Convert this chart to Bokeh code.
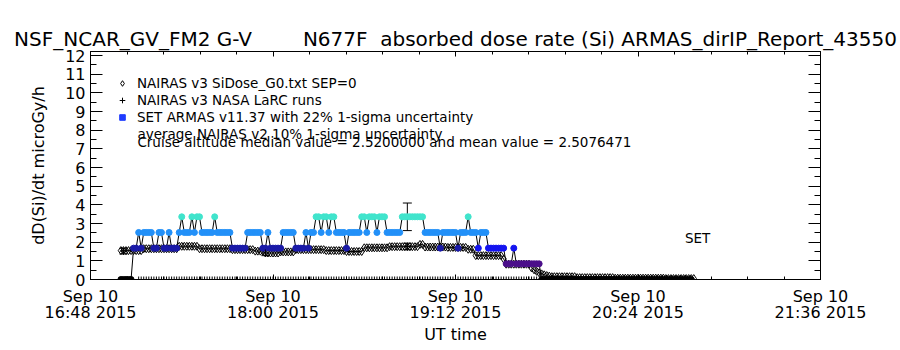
import pandas as pd
from bokeh.plotting import figure
from bokeh.models import (Range1d, FixedTicker, DatetimeAxis, LinearAxis,
                          Legend, LegendItem, Label, Whisker, TeeHead, ColumnDataSource)
from bokeh.embed import file_html
from bokeh.resources import INLINE

DAY = "2015-09-10 "
FONT = "DejaVu Sans"

# ---------------- data ----------------
x_tick_times = ["16:48", "18:00", "19:12", "20:24", "21:36"]
x_tick_labels = ["Sep 10\n16:48 2015", "Sep 10\n18:00 2015", "Sep 10\n19:12 2015",
                 "Sep 10\n20:24 2015", "Sep 10\n21:36 2015"]
y_ticks = list(range(0, 13))

# NAIRAS v3 SiDose_G0 (1-min cadence from 17:00), runs of (dose rate, minutes)
nairas_start = "17:00"
nairas_runs = [(1.55, 9), (1.65, 14), (1.78, 8), (1.65, 13), (1.60, 9), (1.52, 4),
               (1.42, 6), (1.48, 6), (1.60, 12), (1.55, 8), (1.50, 7), (1.70, 10),
               (1.76, 12), (1.88, 2), (1.74, 9), (1.72, 8), (1.62, 3), (1.28, 11),
               (1.10, 1), (0.82, 10), (0.62, 1), (0.52, 1), (0.44, 1), (0.36, 1),
               (0.30, 1), (0.25, 1), (0.21, 1), (0.18, 1), (0.15, 10), (0.10, 15),
               (0.07, 20), (0.05, 12)]

# SET ARMAS v11.37 (1-min cadence from 17:00), runs of (dose rate, minutes, tone)
armas_start = "17:00"
armas_runs = [(0.0, 5, "a"), (1.68, 2, "a"), (2.52, 1, "a"), (1.68, 1, "a"), (2.52, 4, "a"),
              (1.68, 2, "a"), (2.52, 2, "a"), (1.68, 2, "a"), (2.52, 1, "a"), (1.68, 3, "a"),
              (2.52, 1, "a"), (3.36, 1, "a"), (2.52, 3, "a"), (3.36, 1, "a"), (2.52, 1, "a"),
              (3.36, 2, "a"), (2.52, 5, "a"), (3.36, 1, "a"), (2.52, 6, "a"), (1.68, 6, "a"),
              (2.52, 6, "a"), (1.68, 2, "a"), (2.52, 1, "a"), (1.68, 5, "a"), (2.52, 5, "a"),
              (1.68, 4, "a"), (2.52, 1, "a"), (1.68, 1, "a"), (2.52, 2, "a"), (3.36, 2, "a"),
              (2.52, 1, "a"), (3.36, 2, "a"), (2.52, 1, "a"), (3.36, 2, "a"), (2.52, 4, "a"),
              (1.68, 1, "a"), (2.52, 5, "a"), (3.36, 2, "a"), (2.52, 1, "a"), (3.36, 3, "a"),
              (2.52, 1, "a"), (3.36, 3, "a"), (2.52, 6, "a"), (3.36, 9, "a"), (2.52, 6, "a"),
              (1.68, 1, "a"), (2.52, 6, "a"), (1.68, 1, "a"), (2.52, 3, "a"), (3.36, 1, "a"),
              (2.52, 3, "a"), (1.68, 1, "b"), (2.52, 3, "a"), (1.68, 7, "b"), (0.84, 3, "a"),
              (1.68, 1, "b"), (0.84, 10, "a"), (0.0, 60, "a")]

# zero-level "+" markers along the bottom during flight
set_zero_start, set_zero_end = "17:07", "19:44"

# NAIRAS v3 NASA LaRC runs with 10% 1-sigma uncertainty
larc_times = ["17:01", "17:57", "18:53"]
larc_values = [1.52, 1.42, 1.77]
larc_sigma = 0.10

# example ARMAS 22% 1-sigma uncertainty bar
armas_err_time = "18:53"
armas_err_value = 3.36
armas_sigma = 0.22

set_label_time, set_label_value = "20:47:30", 2.25
note_time = "17:06:30"
note_lines = [("average NAIRAS v2 10% 1-sigma uncertainty", 7.78),
              ("Cruise altitude median value = 2.5200000 and mean value = 2.5076471", 7.36)]

title_text = ("NSF_NCAR_GV_FM2 G-V" + "\u00a0" * 8 + "N677F" + "\u00a0" * 2 +
              "absorbed dose rate (Si) ARMAS_dirIP_Report_43550")


# ---------------- helpers ----------------
def ms(hhmm):
    return pd.Timestamp(DAY + hhmm).value / 1e6


def expand(start, runs):
    vals, tones = [], []
    for r in runs:
        vals += [r[0]] * r[1]
        tones += [r[2] if len(r) > 2 else "a"] * r[1]
    t = pd.date_range(DAY + start, periods=len(vals), freq="1min")
    return t, vals, tones


ARMAS_COLORS = {0.0: "black", 0.84: "#4b0f8a", 1.68: "#1a1aa8", 2.52: "#2290f8", 3.36: "#40e4cc"}
BRIGHT_BLUE = "#1414f0"
LEGEND_BLUE = "#1f3cff"

nt, nv, _ = expand(nairas_start, nairas_runs)
at, av, atone = expand(armas_start, armas_runs)
acol = [BRIGHT_BLUE if tn == "b" else ARMAS_COLORS[v] for v, tn in zip(av, atone)]
zt = pd.date_range(DAY + set_zero_start, DAY + set_zero_end, freq="1min")

nai_src = ColumnDataSource(dict(t=nt, v=nv))
arm_src = ColumnDataSource(dict(t=at, v=av, c=acol))
zero_src = ColumnDataSource(dict(t=zt, v=[0.0] * len(zt)))
larc_t = [pd.Timestamp(DAY + s) for s in larc_times]
larc_src = ColumnDataSource(dict(t=larc_t, v=larc_values,
                                 lo=[v * (1 - larc_sigma) for v in larc_values],
                                 hi=[v * (1 + larc_sigma) for v in larc_values]))
err_src = ColumnDataSource(dict(t=[pd.Timestamp(DAY + armas_err_time)],
                                lo=[armas_err_value * (1 - armas_sigma)],
                                hi=[armas_err_value * (1 + armas_sigma)]))

# ---------------- figure ----------------
p = figure(width=900, height=350, x_axis_type="datetime", output_backend="svg",
           toolbar_location=None,
           x_range=Range1d(ms(x_tick_times[0]), ms(x_tick_times[-1])),
           y_range=Range1d(0, 12.22),
           min_border_left=90, min_border_right=80, min_border_top=51, min_border_bottom=71)
p.background_fill_color = "white"
p.border_fill_color = "white"
p.outline_line_color = "black"
p.outline_line_width = 1
p.xgrid.visible = False
p.ygrid.visible = False

p.title.text = title_text
p.title.text_font = FONT
p.title.text_font_size = "20px"
p.title.text_font_style = "normal"
p.title.text_color = "black"
p.title.align = "center"
p.title.standoff = 2
p.title.offset = 0

major_ms = [ms(s) for s in x_tick_times]
minor_ms = [major_ms[0] + i * (major_ms[1] - major_ms[0]) / 5 for i in range(21)]
xticker = FixedTicker(ticks=major_ms, minor_ticks=minor_ms)
yticker = FixedTicker(ticks=y_ticks, minor_ticks=[i / 2 for i in range(0, 25)])

xa = p.xaxis[0]
xa.ticker = xticker
xa.major_label_overrides = {m: lab for m, lab in zip(major_ms, x_tick_labels)}
xa.axis_label = "UT time"
ya = p.yaxis[0]
ya.ticker = yticker
ya.axis_label = "dD(Si)/dt microGy/h"

for ax in (xa, ya):
    ax.axis_label_text_font = FONT
    ax.axis_label_text_font_size = "16px"
    ax.axis_label_text_font_style = "normal"
    ax.axis_label_text_color = "black"
    ax.major_label_text_font = FONT
    ax.major_label_text_font_size = "16px"
    ax.major_label_text_color = "black"
    ax.axis_line_color = "black"
    ax.major_tick_line_color = "black"
    ax.minor_tick_line_color = "black"
    ax.major_tick_out = 0
    ax.minor_tick_out = 0
xa.major_tick_in = 5
xa.minor_tick_in = 3
xa.major_label_standoff = 7
xa.axis_label_standoff = 0
xa.major_label_text_line_height = 0.85
ya.major_tick_in = 12
ya.minor_tick_in = 6
ya.major_label_standoff = 5
ya.axis_label_standoff = 14

top = DatetimeAxis(ticker=xticker, major_tick_in=5, major_tick_out=0, minor_tick_in=3,
                   minor_tick_out=0, major_label_text_font_size="0px", major_label_standoff=0,
                   major_label_overrides={m: "" for m in major_ms})
right = LinearAxis(ticker=yticker, major_tick_in=12, major_tick_out=0, minor_tick_in=6,
                   minor_tick_out=0, major_label_text_font_size="0px", major_label_standoff=0,
                   major_label_overrides={i: "" for i in y_ticks})
p.add_layout(top, "above")
p.add_layout(right, "right")

# NAIRAS model curve
p.line("t", "v", source=nai_src, line_color="black", line_width=1)
r_nai = p.scatter("t", "v", source=nai_src, marker="diamond", size=8,
                  fill_color=None, line_color="black", line_width=1)

# zero-level markers
p.scatter("t", "v", source=zero_src, marker="cross", size=6, line_color="black", line_width=1)

# ARMAS
p.line("t", "v", source=arm_src, line_color="black", line_width=1)
r_arm = p.scatter("t", "v", source=arm_src, marker="circle", size=6, fill_color="c",
                  line_color="c")

# LaRC runs with error bars
p.add_layout(Whisker(source=larc_src, base="t", lower="lo", upper="hi", dimension="height",
                     line_color="black", line_width=1,
                     upper_head=TeeHead(size=8, line_color="black"),
                     lower_head=TeeHead(size=8, line_color="black")))
r_larc = p.scatter("t", "v", source=larc_src, marker="cross", size=7, line_color="black",
                   line_width=1)
p.add_layout(Whisker(source=err_src, base="t", lower="lo", upper="hi", dimension="height",
                     line_color="black", line_width=1,
                     upper_head=TeeHead(size=9, line_color="black"),
                     lower_head=TeeHead(size=9, line_color="black")))

# legend-only swatch for ARMAS (one off-scale point so nothing shows in the plot)
leg_src = ColumnDataSource(dict(t=[pd.Timestamp(DAY + armas_start)], v=[float("nan")]))
r_leg_armas = p.scatter("t", "v", source=leg_src, marker="square", size=6,
                        fill_color=LEGEND_BLUE, line_color=LEGEND_BLUE)

legend = Legend(items=[
    LegendItem(label="NAIRAS v3 SiDose_G0.txt SEP=0", renderers=[r_nai]),
    LegendItem(label="NAIRAS v3 NASA LaRC runs", renderers=[r_larc]),
    LegendItem(label="SET ARMAS v11.37 with 22% 1-sigma uncertainty", renderers=[r_leg_armas]),
], location="top_left", margin=16, padding=8, spacing=1, glyph_width=16, glyph_height=14,
    label_height=14, label_standoff=7, label_text_font=FONT, label_text_font_size="13.5px",
    label_text_color="black", background_fill_alpha=0, border_line_alpha=0)
p.add_layout(legend)

for txt, yv in note_lines:
    p.add_layout(Label(x=ms(note_time), y=yv, text=txt, text_font=FONT, text_font_size="13.5px",
                       text_baseline="middle", text_color="black"))

p.add_layout(Label(x=ms(set_label_time), y=set_label_value, text="SET", text_font=FONT,
                   text_font_size="13.5px", text_align="center", text_baseline="middle",
                   text_color="black"))

open("out.html", "w").write(file_html(p, INLINE))
